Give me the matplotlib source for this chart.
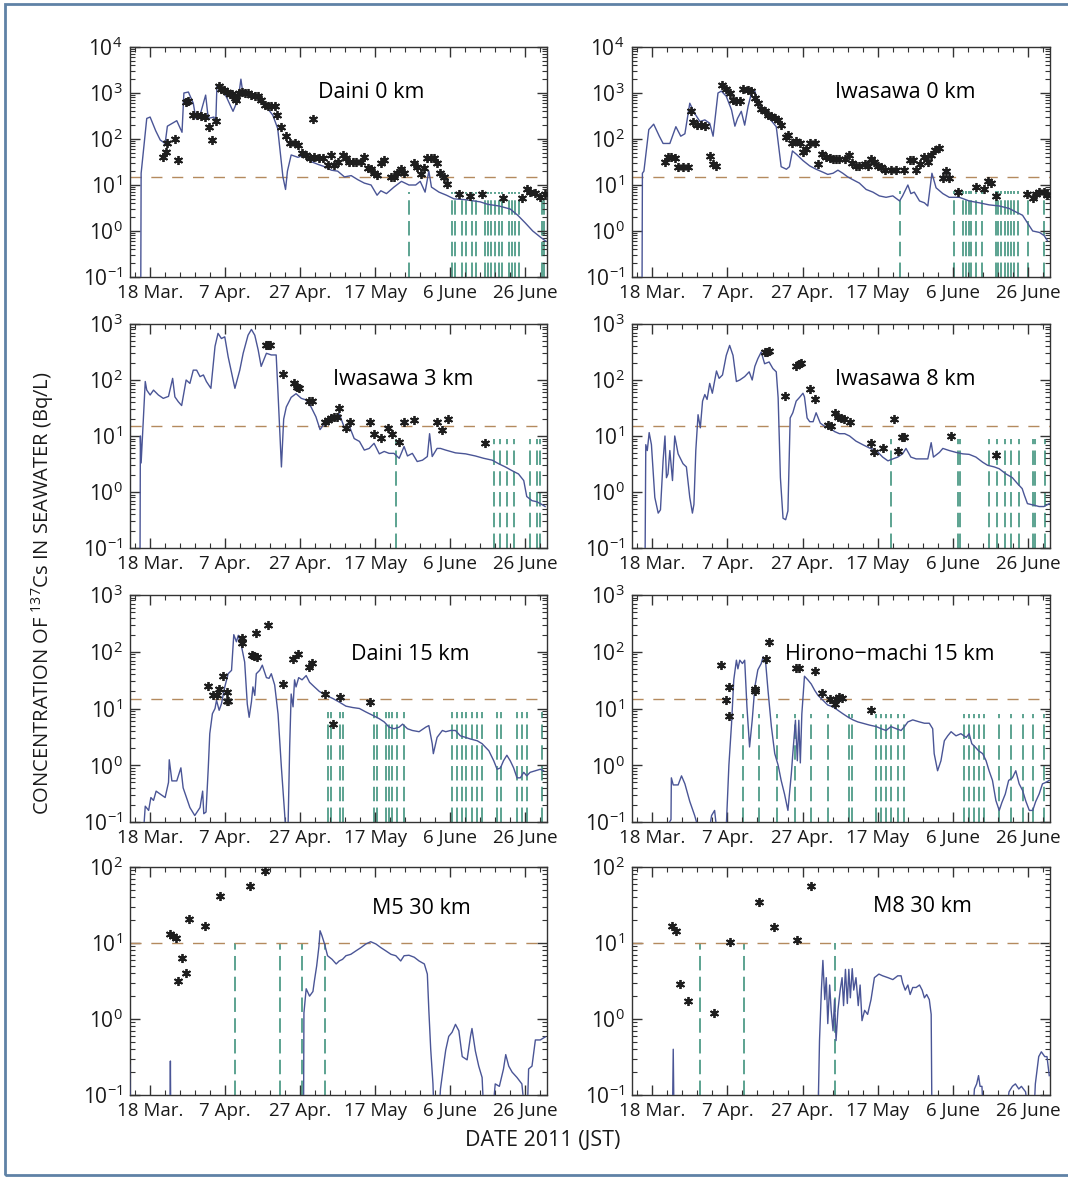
import numpy as np
import matplotlib
matplotlib.use('Agg')
import matplotlib.pyplot as plt
from matplotlib.patches import Rectangle
from matplotlib.ticker import FixedLocator, LogLocator, NullFormatter, FuncFormatter

# days are counted from 18 March 2011 (JST)
date_ticks = [0, 20, 40, 60, 80, 100]
date_labels = ['18 Mar.', '7 Apr.', '27 Apr.', '17 May', '6 June', '26 June']

station_names = ['Daini 0 km', 'Iwasawa 0 km', 'Iwasawa 3 km', 'Iwasawa 8 km',
                 'Daini 15 km', 'Hirono\u2212machi 15 km', 'M5 30 km', 'M8 30 km']
detect_limit = [15, 15, 15, 15, 15, 15, 10, 10]
y_top = [1e4, 1e4, 1e3, 1e3, 1e3, 1e3, 1e2, 1e2]

# ---- Daini 0 km ----
daini0_sim_day = [-2.5, -2.4, -0.9, 0, 1.5, 2.7, 4.0, 4.6, 7.1, 8.5, 9.0, 10.2, 11.5, 12.2, 13.3, 14.8,
                  15.5, 17.0, 17.5, 17.8, 19.0, 20.4, 22.1, 23.0, 23.7, 24.2, 24.8, 26.5, 28.3, 30.1,
                  31.4, 32.7, 34.0, 35.4, 36.1, 36.6, 37.6, 39.4, 41.2, 43.0, 44.8, 46.5, 48.3, 50.0,
                  51.8, 53.6, 55.4, 57.1, 58.9, 60.5, 61.5, 63.0, 65.0, 67.0, 69.0, 70.8, 72.0, 73.3,
                  74.3, 75.0, 77.0, 79.0, 81.0, 84.0, 88.0, 90.0, 93.0, 96.0, 98.0, 100.0, 102.0,
                  104.0, 105.5]
daini0_sim_val = [0.05, 18, 280, 300, 150, 95, 80, 190, 250, 140, 1000, 1050, 600, 280, 330, 900,
                  280, 300, 230, 1400, 1300, 800, 400, 600, 1000, 2000, 900, 1000, 900, 700,
                  450, 330, 170, 15, 8, 20, 45, 40, 45, 32, 28, 25, 21, 20,
                  15, 16, 13, 11, 10, 6, 7.5, 6.5, 9, 12, 10, 10, 12, 7,
                  20, 9, 7, 6, 5, 4.8, 4.3, 3.8, 3.5, 3.0, 2.2, 1.5, 1.0,
                  0.74, 0.6]
daini0_obs_day = [3.3, 4.2, 4.6, 6.6, 7.3, 9.6, 10.2, 11.3, 12.4, 13.5, 14.6, 15.8, 16.6, 17.5, 18.4,
                  19.0, 19.6, 20.4, 21.2, 21.9, 22.6, 23.0, 23.7, 24.6, 25.2, 26.1, 27.0, 27.9, 28.8,
                  29.6, 30.5, 31.4, 32.3, 33.2, 33.8, 35.0, 36.1, 37.2, 38.5, 39.4, 40.5, 41.6, 42.5,
                  43.4, 43.8, 45.1, 46.0, 47.3, 48.2, 49.1, 50.0, 51.3, 52.2, 53.1, 54.0, 55.0, 56.2,
                  57.1, 58.0, 58.9, 59.7, 60.6, 61.5, 62.4, 64.2, 65.0, 65.9, 66.8, 67.7, 70.4, 71.2,
                  72.1, 73.0, 73.9, 74.8, 75.7, 76.5, 77.4, 78.3, 79.2, 82.3, 85.4, 88.5, 94.2, 99.1,
                  100.4, 101.3, 102.7, 104.0, 105.3]
daini0_obs_val = [40, 53, 80, 98, 35, 630, 660, 340, 340, 320, 300, 185, 95, 250, 1400,
                  1250, 1150, 1050, 930, 930, 780, 720, 1000, 1050, 1000, 1000, 920, 850, 850,
                  720, 560, 510, 510, 510, 340, 185, 115, 80, 80, 74, 50, 45, 38,
                  270, 41, 38, 38, 27, 45, 27, 31, 45, 38, 32, 32, 31, 32,
                  41, 24, 22, 18, 16.5, 30, 35, 15, 15, 18, 22, 18, 30, 25,
                  17, 23, 38, 38, 38, 30, 18, 15, 10.5, 6.4, 5.8, 6.4, 5.1, 5.1,
                  8, 7, 6.6, 5.5, 6.4]
daini0_nd_day = [69.0, 80.4, 81.2, 83.2, 84.1, 85.8, 86.9, 89.2, 90.1, 91.0, 92.0, 92.9, 93.8,
                 95.6, 96.5, 97.3, 98.4, 104.4, 105.1]

# ---- Iwasawa 0 km ----
iwasawa0_sim_day = [-2.7, -2.6, -2.2, -0.9, 0.4, 1.9, 2.9, 4.7, 6.3, 7.6, 8.7, 10.0, 11.3, 12.7, 14.0,
                    15.3, 16.2, 17.5, 18.4, 19.7, 21.1, 22.0, 22.7, 23.7, 24.6, 25.5, 26.4, 27.3, 28.1,
                    29.5, 31.2, 33.0, 34.3, 35.7, 36.5, 37.3, 38.3, 40.1, 41.9, 43.6, 45.4, 46.7, 48.1,
                    49.4, 50.7, 52.0, 53.4, 55.1, 56.9, 58.7, 60.4, 62.2, 64.0, 65.8, 66.6, 68.0, 68.8,
                    69.7, 71.1, 72.4, 73.3, 74.4, 75.5, 77.3, 79.0, 81.7, 84.3, 87.0, 89.6, 92.3, 94.9,
                    96.7, 98.5, 99.8, 101.2, 103.0, 104.2, 105.1]
iwasawa0_sim_val = [0.05, 18, 20, 160, 210, 115, 80, 80, 185, 115, 130, 600, 360, 240, 260,
                    220, 115, 1000, 1100, 850, 430, 190, 280, 400, 200, 510, 1000, 1100, 660,
                    400, 280, 185, 25, 22, 25, 55, 47, 34, 26, 22, 19, 17, 18,
                    21, 18, 15, 13, 11, 8, 7, 5.8, 5.4, 5.8, 4.5, 5.8, 10, 6.5,
                    7, 4.5, 4.1, 3.5, 18, 8.7, 6.5, 5.4, 5.4, 4.5, 4.1, 3.7, 3.5, 3.1,
                    2.6, 2.2, 1.5, 1.0, 0.93, 0.8, 0.62]
iwasawa0_obs_day = [3.5, 4.2, 5.1, 6.0, 6.9, 8.2, 9.6, 10.2, 10.9, 11.8, 13.1, 14.0, 15.3, 16.2, 17.1,
                    18.7, 19.7, 20.6, 21.5, 22.4, 23.3, 24.2, 25.5, 26.4, 27.3, 28.1, 29.0, 29.9, 30.8,
                    31.7, 32.6, 33.5, 34.3, 35.5, 36.1, 37.3, 38.3, 39.2, 40.1, 41.0, 41.9, 43.2, 44.1,
                    45.2, 46.3, 47.2, 48.0, 48.9, 49.8, 51.2, 52.3, 53.2, 54.1, 55.1, 56.5, 57.3, 58.2,
                    59.1, 60.0, 60.9, 62.0, 63.5, 64.9, 67.1, 68.5, 69.3, 70.2, 71.1, 72.4, 73.3, 74.2,
                    75.2, 76.2, 77.3, 78.1, 79.0, 81.2, 86.1, 88.3, 89.2, 90.1, 91.4, 99.8, 101.2,
                    102.1, 103.0, 104.2, 105.1]
iwasawa0_obs_val = [32, 41, 41, 38, 25, 25, 25, 400, 240, 200, 200, 190, 43, 28, 26,
                    1500, 1200, 1000, 720, 660, 660, 1250, 1150, 1100, 780, 600, 440, 400, 330,
                    320, 280, 260, 200, 110, 120, 80, 90, 80, 51, 60, 80, 80, 28,
                    47, 40, 38, 36, 36, 36, 36, 45, 30, 26, 26, 28, 26, 36,
                    32, 26, 25, 21, 21, 21, 21, 35, 35, 21, 28, 41, 32, 45,
                    58, 65, 14, 20, 14, 7.2, 9, 8, 12, 11, 5.9, 6.3, 5.2,
                    6.3, 7.2, 7.2, 6]
iwasawa0_nd_day = [65.8, 80.4, 82.6, 83.5, 84.2, 84.8, 86.1, 87.7, 91.4, 92.0, 92.9, 93.8, 94.6,
                   95.5, 96.3, 97.2, 99.9, 104.2]

# ---- Iwasawa 3 km ----
iwasawa3_sim_day = [-2.7, -2.6, -2.4, -1.3, -0.9, 0.0, 0.9, 2.2, 3.5, 4.9, 6.0, 6.6, 7.5, 8.4, 9.6,
                    10.6, 11.5, 12.4, 13.3, 14.2, 15.0, 16.2, 17.3, 18.1, 19.0, 19.9, 20.8, 22.6, 23.9,
                    24.8, 26.1, 27.0, 27.9, 28.8, 29.6, 31.0, 32.3, 33.6, 34.1, 35.0, 35.6, 36.3, 37.6,
                    38.9, 40.3, 41.6, 42.9, 44.2, 45.3, 46.5, 47.8, 49.1, 50.4, 51.8, 53.1, 54.4, 55.8,
                    57.1, 58.4, 59.7, 61.1, 62.4, 63.7, 65.0, 66.4, 67.7, 68.6, 69.9, 71.2, 72.6, 73.9,
                    74.5, 75.2, 76.5, 77.4, 78.8, 81.4, 84.1, 86.7, 88.9, 91.2, 92.9, 94.7, 96.5, 98.2,
                    99.6, 100.4, 101.8, 103.1, 104.4, 105.3]
iwasawa3_sim_val = [0.05, 10, 3.3, 94, 66, 54, 66, 54, 47, 51, 107, 50, 41, 35, 100,
                    87, 150, 150, 115, 123, 94, 71, 400, 680, 550, 590, 260, 71, 150,
                    300, 630, 800, 630, 345, 175, 300, 280, 280, 57, 2.8, 20, 33, 49,
                    57, 47, 44, 33, 22, 13, 17, 19, 21, 25, 14, 15, 9, 8,
                    5.6, 6, 7.4, 4.8, 5.3, 4.9, 4.9, 4, 6.5, 4.4, 4.9, 3.5, 3.7, 4.3,
                    11, 4.3, 6, 6, 5.6, 5.0, 4.8, 4.4, 4, 3.7, 3.2, 2.8, 2.4, 2.1,
                    1.6, 0.83, 0.7, 0.67, 0.6, 0.55]
iwasawa3_obs_day = [30.8, 31.4, 32.0, 35.4, 38.3, 39.1, 39.6, 42.3, 43.2, 46.7, 47.3, 48.2, 49.1,
                    49.7, 50.4, 52.2, 53.3, 58.6, 59.7, 61.5, 63.5, 64.6, 66.4, 67.7, 70.4, 76.5,
                    77.7, 79.5, 89.4]
iwasawa3_obs_val = [420, 420, 420, 130, 89, 76, 71, 43, 43, 18, 19, 21, 22,
                    22, 31, 14, 18, 18, 11, 9.3, 14, 11, 7.7, 18, 19, 18,
                    13, 20, 7.6]
iwasawa3_nd_day = [65.5, 91.6, 93.4, 95.1, 96.9, 101.3, 103.1, 104.0]

# ---- Iwasawa 8 km ----
iwasawa8_sim_day = [-1.9, -1.7, -1.3, -0.8, -0.2, 0.7, 1.6, 2.2, 2.9, 3.4, 3.8, 4.2, 4.7, 5.4, 6.0,
                    6.9, 8.2, 9.1, 10.0, 10.7, 11.1, 11.6, 12.2, 12.8, 13.4, 14.0, 14.6, 15.3, 16.0,
                    17.1, 17.8, 18.7, 19.7, 20.6, 21.5, 22.4, 23.3, 24.6, 25.8, 26.6, 27.3, 28.1, 29.0,
                    29.9, 31.1, 32.1, 33.0, 33.5, 34.1, 34.8, 35.5, 36.1, 36.7, 37.4, 38.3, 39.2, 40.1,
                    40.5, 41.2, 41.9, 42.8, 43.6, 44.7, 45.8, 47.2, 48.5, 49.8, 51.2, 52.5, 54.2, 56.0,
                    57.8, 59.6, 61.3, 62.7, 64.0, 65.3, 66.6, 67.5, 68.8, 70.2, 71.9, 73.3, 74.2, 74.8,
                    76.4, 77.3, 79.0, 80.8, 82.6, 84.3, 86.1, 87.9, 89.2, 91.0, 92.3, 94.1, 95.8, 97.2,
                    98.4, 99.0, 99.8, 101.6, 102.9, 104.2, 105.6]
iwasawa8_sim_val = [0.05, 7, 5.5, 11.5, 7, 0.8, 0.42, 0.48, 3.6, 10, 1.8, 2.1, 5.5, 1.6, 10,
                    4.8, 3.2, 2.8, 0.8, 0.42, 0.6, 5.5, 24, 14, 42, 55, 45, 87, 58,
                    145, 107, 123, 275, 415, 275, 94, 100, 115, 140, 100, 175, 240, 316,
                    195, 210, 160, 140, 48, 1.8, 0.34, 0.32, 0.46, 21, 26, 42, 49, 58,
                    50, 21, 18, 18, 26, 17, 15, 14, 12, 11, 11, 10, 8.1, 7,
                    6.1, 5.5, 4.2, 3.6, 3.9, 4.2, 4.8, 6, 4.2, 3.9, 3.9, 3.9, 7.6, 4.2,
                    5.1, 6, 5.5, 5.1, 4.8, 4.7, 4.2, 3.4, 3.0, 2.8, 2.6, 2.1, 1.8, 1.4,
                    1.15, 0.87, 0.62, 0.58, 0.55, 0.55, 0.62]
iwasawa8_obs_day = [30.1, 30.6, 31.2, 35.2, 38.3, 39.0, 39.6, 42.0, 43.2, 46.7, 47.6, 48.5, 49.4,
                    50.3, 50.9, 52.5, 58.2, 59.1, 61.3, 64.4, 65.3, 66.5, 67.1, 79.5, 91.4]
iwasawa8_obs_val = [310, 316, 325, 51, 180, 195, 200, 69, 46, 16, 15, 26, 22,
                    21, 20, 18, 7.6, 5.1, 6.2, 20, 5.5, 9.6, 9.6, 10, 4.6]
iwasawa8_nd_day = [63.5, 81.2, 81.9, 89.5, 91.7, 93.7, 95.5, 97.5, 101.2, 101.9, 104.5]

# ---- Daini 15 km ----
daini15_sim_day = [-1.9, -1.3, -0.4, 0.2, 0.9, 1.6, 2.7, 4.0, 4.9, 5.1, 5.8, 7.1, 8.2, 8.8, 10.6,
                   11.9, 13.3, 14.0, 14.3, 14.9, 15.5, 15.9, 16.6, 17.3, 17.7, 18.4, 19.0, 19.9, 20.8,
                   21.7, 22.3, 23.0, 23.5, 24.3, 25.2, 25.9, 26.4, 27.0, 27.4, 27.9, 28.3, 29.2, 29.9,
                   30.5, 31.0, 31.7, 32.3, 33.2, 34.1, 35.0, 35.8, 36.3, 36.7, 37.2, 37.6, 38.1, 38.5,
                   38.9, 39.6, 40.5, 41.6, 42.5, 43.8, 45.1, 46.9, 48.7, 50.4, 52.2, 54.0, 55.8, 57.5,
                   59.3, 61.1, 62.4, 63.7, 65.0, 66.4, 67.3, 68.6, 69.9, 71.7, 73.5, 74.3, 75.2, 75.5,
                   76.5, 77.9, 78.8, 80.1, 81.4, 82.7, 84.1, 85.4, 87.2, 88.5, 90.3, 91.6, 92.5, 93.4,
                   94.2, 95.1, 96.0, 96.9, 97.8, 98.7, 99.6, 100.4, 101.3, 102.7, 104.0, 104.9]
daini15_sim_val = [0.05, 0.19, 0.16, 0.27, 0.24, 0.35, 0.31, 0.27, 0.5, 1.25, 0.53, 0.53, 0.9, 0.4, 0.18,
                   0.13, 0.18, 0.35, 0.14, 0.15, 0.9, 3.6, 8.1, 10, 14, 9.3, 12, 24, 41,
                   47, 200, 150, 195, 130, 66, 12, 7, 13, 24, 17, 41, 47, 58,
                   44, 35, 34, 41, 26, 8, 0.9, 0.16, 0.05, 0.05, 2.1, 18, 10.7, 32,
                   24, 35, 32, 38, 29, 24, 20, 17, 15, 13, 11, 10.4, 10, 8.7,
                   7.6, 6.6, 5.8, 4.7, 4.4, 4.7, 5.3, 4.4, 4.1, 3.9, 4.7, 5, 2.4, 1.6,
                   3.1, 4.1, 3.9, 4.1, 4.1, 3.3, 3.1, 2.9, 2.7, 2.4, 1.8, 1.2, 0.85, 0.9,
                   1.2, 1.5, 1.2, 0.9, 0.6, 0.6, 0.75, 0.65, 0.75, 0.8, 0.85, 0.8]
daini15_obs_day = [15.5, 16.8, 17.7, 18.4, 19.5, 20.4, 20.4, 20.8, 24.6, 24.6, 27.2, 27.7, 28.3,
                   28.6, 31.4, 35.4, 38.2, 39.4, 42.3, 43.2, 46.5, 48.7, 50.6, 58.7]
daini15_obs_val = [25, 17, 17, 22, 37, 19.5, 13.5, 13.5, 178, 145, 87, 83, 215,
                   80, 300, 27, 76, 91, 53, 63, 18, 5.4, 16, 13]
daini15_nd_day = [47.3, 48.2, 50.6, 51.3, 59.7, 60.4, 63.0, 63.7, 64.6, 65.9, 67.7, 80.5, 81.9,
                  83.2, 84.2, 85.8, 87.2, 88.5, 92.5, 93.6, 97.8, 99.1, 100.4, 104.5]

# ---- Hirono-machi 15 km ----
hirono15_sim_day = [4.2, 5.0, 5.1, 5.6, 6.9, 7.8, 8.7, 10.0, 11.3, 12.2, 15.3, 15.8, 16.6, 17.1, 19.7,
                    20.4, 21.1, 21.7, 22.4, 22.8, 23.3, 24.0, 24.6, 25.2, 25.9, 26.6, 27.3, 28.1, 29.0,
                    29.5, 30.2, 30.8, 31.7, 32.6, 33.5, 34.3, 35.2, 36.1, 36.5, 37.0, 37.4, 38.1, 38.6,
                    39.0, 39.4, 39.8, 40.5, 41.4, 42.3, 43.2, 44.1, 45.4, 46.7, 48.1, 49.4, 50.7, 52.0,
                    53.4, 54.7, 56.0, 57.8, 59.6, 60.9, 62.2, 63.5, 64.9, 66.2, 67.1, 68.0, 69.3, 71.1,
                    72.4, 73.7, 74.6, 75.0, 75.9, 76.8, 77.7, 78.6, 79.5, 80.8, 82.1, 83.5, 84.3, 85.0,
                    85.9, 86.8, 87.9, 88.8, 89.6, 90.5, 91.4, 92.3, 93.0, 93.9, 94.8, 95.8, 96.7, 97.6,
                    98.5, 99.4, 100.3, 101.2, 102.0, 102.9, 103.8, 104.7, 105.6]
hirono15_sim_val = [0.09, 0.11, 0.6, 0.45, 0.45, 0.65, 0.47, 0.23, 0.13, 0.08, 0.08, 0.13, 0.16, 0.08, 0.08,
                    1.0, 5.3, 32, 71, 50, 71, 62, 71, 10.7, 2.1, 6.2, 24, 48, 62,
                    81, 62, 21, 4.8, 1.6, 1.0, 0.54, 0.31, 0.16, 0.31, 0.7, 1.6, 6.2, 1.2,
                    6.2, 1.1, 8, 37, 32, 27, 21, 17, 14, 11.5, 10.7, 9.3, 8.1, 7.1,
                    6.3, 5.8, 5.5, 5.1, 4.8, 4.4, 4.1, 4.8, 4.4, 4.1, 4.8, 5.8, 6.3, 5.8,
                    5.5, 5.5, 4.4, 1.6, 0.8, 1.2, 2.7, 3.3, 3.9, 3.3, 3.6, 3.1, 3.6, 2.4,
                    2.1, 1.8, 1.6, 1.2, 0.8, 0.54, 0.24, 0.16, 0.22, 0.31, 0.54, 0.6, 0.8, 0.47,
                    0.36, 0.23, 0.16, 0.16, 0.23, 0.31, 0.47, 0.5, 0.54]
hirono15_obs_day = [18.4, 19.5, 20.4, 20.4, 27.3, 27.3, 30.4, 31.2, 38.3, 39.0, 43.2, 45.2, 47.2,
                    48.5, 48.9, 49.8, 50.5, 58.2]
hirono15_obs_val = [58, 14, 24, 7.3, 22, 20, 76, 148, 51, 51, 46, 18.5, 15,
                    12, 15, 16, 15.5, 9.3]
hirono15_nd_day = [24.2, 28.4, 33.2, 38.1, 42.3, 46.7, 52.3, 53.2, 59.4, 60.9, 62.2, 63.5, 65.3,
                   66.9, 83.0, 84.3, 85.5, 86.8, 88.3, 92.3, 95.4, 98.5, 101.2, 104.2]

# ---- M5 30 km ----
m5_sim_day = [-5.5, -5.3, 5.3, 5.4, 5.5, 40.9, 41.0, 41.6, 42.5, 43.4, 43.8, 44.4, 45.0, 45.3, 45.8,
              46.5, 47.3, 48.5, 49.6, 50.4, 51.3, 52.2, 53.5, 54.9, 56.2, 57.5, 58.8, 60.2, 61.5,
              62.8, 64.2, 65.5, 66.8, 67.7, 69.0, 70.4, 71.7, 73.1, 73.9, 74.3, 74.8, 75.4, 75.7,
              77.0, 77.4, 78.3, 78.8, 79.6, 80.5, 81.4, 82.3, 83.2, 84.5, 85.4, 85.8, 86.7, 87.6,
              88.5, 89.0, 91.2, 92.0, 93.1, 94.2, 94.8, 95.6, 96.5, 97.8, 99.1, 100.0, 100.5, 100.9,
              101.8, 102.7, 104.0, 105.3]
m5_sim_val = [0.25, 0.05, 0.05, 0.28, 0.05, 0.05, 1.2, 2.5, 2.0, 2.3, 3.2, 5, 9, 14.5, 12.5,
              9.7, 6.8, 6.1, 5.3, 5.8, 6.1, 6.8, 7.1, 7.9, 8.7, 9.7, 10.4, 9.7, 8.7,
              7.9, 7.1, 6.8, 5.8, 6.8, 6.9, 6.5, 5.8, 5.3, 3.9, 1.3, 0.4, 0.14, 0.05,
              0.05, 0.12, 0.26, 0.39, 0.59, 0.67, 0.85, 0.7, 0.32, 0.29, 0.59, 0.75, 0.38, 0.24,
              0.17, 0.05, 0.05, 0.14, 0.13, 0.22, 0.34, 0.24, 0.2, 0.17, 0.14, 0.05, 0.05, 0.22,
              0.24, 0.53, 0.53, 0.58]
m5_obs_day = [5.3, 6.0, 6.8, 8.4, 7.5, 9.6, 10.4, 14.6, 18.6, 26.5, 30.5]
m5_obs_val = [13, 12.3, 11.5, 6.3, 3.2, 4, 21, 16.5, 41, 57, 88]
m5_nd_day = [22.6, 34.5, 40.5, 46.5]

# ---- M8 30 km ----
m8_sim_day = [5.4, 5.6, 5.8, 44.1, 44.5, 45.0, 45.4, 45.9, 46.3, 46.7, 47.2, 47.6, 48.1, 48.5, 48.9,
              49.4, 50.0, 50.5, 50.9, 51.4, 51.9, 52.3, 52.7, 53.2, 53.6, 54.2, 54.8, 55.3, 55.8,
              56.5, 57.3, 58.2, 59.1, 60.3, 61.3, 62.7, 64.0, 65.3, 66.2, 66.6, 67.3, 68.0, 68.6,
              69.3, 70.2, 71.1, 71.8, 72.4, 73.0, 73.7, 74.2, 74.4, 85.2, 85.7, 86.3, 86.8, 87.2,
              87.7, 88.1, 94.0, 94.9, 95.8, 96.6, 97.5, 98.2, 99.3, 100.2, 101.5, 101.9, 102.8,
              103.5, 104.4, 105.0, 105.6]
m8_sim_val = [0.05, 0.4, 0.05, 0.05, 0.52, 2.4, 5.9, 1.8, 3.5, 0.87, 2.8, 1.3, 0.7, 1.8, 0.52,
              1.3, 2.4, 3.5, 1.5, 4.5, 1.6, 4.5, 1.9, 4.6, 2.4, 3.5, 1.5, 2.8, 0.95,
              1.3, 1.15, 1.8, 3.5, 3.9, 3.7, 3.5, 3.3, 3.7, 3.7, 3.0, 2.4, 2.8, 2.1,
              2.6, 2.6, 2.8, 2.4, 1.9, 2.1, 1.8, 1.15, 0.05, 0.05, 0.12, 0.14, 0.18, 0.13,
              0.13, 0.05, 0.05, 0.11, 0.13, 0.14, 0.12, 0.13, 0.11, 0.05, 0.05, 0.14, 0.32,
              0.37, 0.32, 0.32, 0.18]
m8_obs_day = [5.4, 6.3, 7.5, 9.6, 16.5, 20.6, 28.4, 32.3, 38.6, 42.3]
m8_obs_val = [16.6, 14.5, 2.9, 1.7, 1.2, 10.2, 35, 16, 11, 56]
m8_nd_day = [12.7, 24.3, 48.5]

SIM_COLOR = '#4a5596'
OBS_COLOR = '#1e1e1e'
LIMIT_COLOR = '#b48a5e'
ND_COLOR = '#4f9c88'
# how high the below-detection dashes reach in each panel
ND_TOP = [7, 7.5, 9, 8.7, 8.6, 8, 10, 10]


def decade_label(v, pos):
    """log tick label as 10^n"""
    if v <= 0:
        return ''
    return r'$10^{%d}$' % int(round(np.log10(v)))


def draw_panel(ax, name, sim_day, sim_val, obs_day, obs_val, nd_day, limit, top, nd_top, tpos):
    """one station panel"""
    ax.set_yscale('log')
    ax.set_xlim(-5.5, 105.8)
    ax.set_ylim(0.1, top)

    # days where the measurement was below detection limit
    ax.vlines(nd_day, 0.1, nd_top, colors=ND_COLOR, linewidth=1.3,
              linestyles=(0, (8, 3.5)), zorder=1)

    ax.axhline(limit, color=LIMIT_COLOR, linewidth=1.0, linestyle=(0, (8, 7)), zorder=2)

    ax.plot(sim_day, sim_val, color=SIM_COLOR, linewidth=1.0, zorder=3)

    ax.plot(obs_day, obs_val, linestyle='none', marker='o', ms=3.0,
            color=OBS_COLOR, zorder=4)
    ax.plot(obs_day, obs_val, linestyle='none', marker=(6, 2, 0), ms=6.5,
            mew=1.3, color=OBS_COLOR, zorder=4)

    ax.text(tpos[0], tpos[1], name, transform=ax.transAxes, fontsize=15.5,
            ha='center', va='center', zorder=5)

    ax.xaxis.set_major_locator(FixedLocator(date_ticks))
    ax.set_xticklabels(date_labels)
    ax.xaxis.set_minor_locator(FixedLocator(np.arange(-4, 106, 4)))
    ax.yaxis.set_major_locator(LogLocator(base=10, numticks=10))
    ax.yaxis.set_minor_locator(LogLocator(base=10, subs=np.arange(2, 10), numticks=20))
    ax.yaxis.set_major_formatter(FuncFormatter(decade_label))
    ax.yaxis.set_minor_formatter(NullFormatter())

    ax.tick_params(which='both', direction='in', top=True, right=True,
                   colors='#333333', labelcolor='#1a1a1a')
    ax.tick_params(axis='x', labelsize=13.5)
    ax.tick_params(axis='y', labelsize=15)
    ax.tick_params(which='major', length=7, width=1.0, pad=5)
    ax.tick_params(which='minor', length=3.5, width=0.8)
    for s in ax.spines.values():
        s.set_color('#333333')
        s.set_linewidth(1.0)


if __name__ == '__main__':
    plt.rcParams['font.family'] = ['Open Sans', 'DejaVu Sans']
    plt.rcParams['mathtext.fontset'] = 'custom'
    plt.rcParams['mathtext.rm'] = 'Open Sans'
    plt.rcParams['mathtext.it'] = 'Open Sans:italic'
    plt.rcParams['mathtext.bf'] = 'Open Sans:bold'

    W, H = 1068, 1179
    fig = plt.figure(figsize=(W / 100, H / 100), dpi=100)

    # panel boxes in pixels: (left, top, right, bottom)
    col_x = [(129.5, 547.0), (631.5, 1050.0)]
    row_y = [(47, 277), (324, 548), (595, 822), (867, 1095)]
    title_pos = [(0.58, 0.80), (0.654, 0.80), (0.655, 0.75), (0.654, 0.75),
                 (0.672, 0.736), (0.618, 0.736), (0.70, 0.82), (0.694, 0.825)]

    sims = [(daini0_sim_day, daini0_sim_val), (iwasawa0_sim_day, iwasawa0_sim_val),
            (iwasawa3_sim_day, iwasawa3_sim_val), (iwasawa8_sim_day, iwasawa8_sim_val),
            (daini15_sim_day, daini15_sim_val), (hirono15_sim_day, hirono15_sim_val),
            (m5_sim_day, m5_sim_val), (m8_sim_day, m8_sim_val)]
    obss = [(daini0_obs_day, daini0_obs_val), (iwasawa0_obs_day, iwasawa0_obs_val),
            (iwasawa3_obs_day, iwasawa3_obs_val), (iwasawa8_obs_day, iwasawa8_obs_val),
            (daini15_obs_day, daini15_obs_val), (hirono15_obs_day, hirono15_obs_val),
            (m5_obs_day, m5_obs_val), (m8_obs_day, m8_obs_val)]
    nds = [daini0_nd_day, iwasawa0_nd_day, iwasawa3_nd_day, iwasawa8_nd_day,
           daini15_nd_day, hirono15_nd_day, m5_nd_day, m8_nd_day]

    for i in range(8):
        r, c = divmod(i, 2)
        x0, x1 = col_x[c]
        y0, y1 = row_y[r]
        ax = fig.add_axes([x0 / W, 1 - y1 / H, (x1 - x0) / W, (y1 - y0) / H])
        draw_panel(ax, station_names[i], sims[i][0], sims[i][1], obss[i][0], obss[i][1],
                   nds[i], detect_limit[i], y_top[i], ND_TOP[i], title_pos[i])

    fig.text(43 / W, 1 - 593 / H, r'CONCENTRATION OF $^{137}$Cs IN SEAWATER (Bq/L)',
             rotation=90, ha='center', va='center', fontsize=14.5, color='#1a1a1a')
    fig.text(543 / W, 1 - 1141 / H, 'DATE 2011 (JST)', ha='center', va='center',
             fontsize=15.5, color='#1a1a1a')

    # scanned page frame
    fig.patches.append(Rectangle((5 / W, 4 / H), 1.02, (1175 - 4) / H,
                                 transform=fig.transFigure, fill=False,
                                 edgecolor='#5f82a6', linewidth=2.0))

    plt.savefig('out.png', dpi=100, facecolor='white')
    plt.close()
